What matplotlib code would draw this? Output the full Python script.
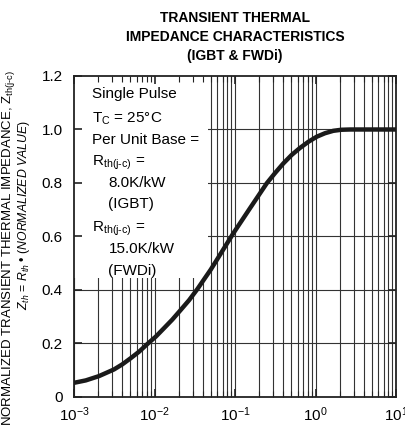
import numpy as np
import matplotlib.pyplot as plt
from matplotlib.patches import Rectangle

plt.rcParams['font.family'] = ['Liberation Sans', 'DejaVu Sans']
plt.rcParams['mathtext.fontset'] = 'custom'
plt.rcParams['mathtext.rm'] = 'Liberation Sans'
plt.rcParams['mathtext.it'] = 'Liberation Sans:italic'

# normalized transient thermal impedance curve (single pulse)
t_sec = [1.0e-3, 1.40e-3, 2.04e-3, 3.14e-3, 3.98e-3, 5.06e-3, 6.41e-3,
         8.15e-3, 1.04e-2, 1.31e-2, 1.66e-2, 2.11e-2, 2.69e-2, 3.40e-2,
         4.99e-2, 5.93e-2, 9.53e-2, 0.153, 0.248, 0.314, 0.398, 0.506,
         0.641, 0.815, 1.035, 1.31, 1.66, 2.09, 2.69, 10.0]
z_norm = [0.053, 0.062, 0.078, 0.103, 0.122, 0.145, 0.169,
          0.198, 0.226, 0.257, 0.289, 0.325, 0.362, 0.403,
          0.476, 0.512, 0.612, 0.705, 0.799, 0.837, 0.873, 0.905,
          0.931, 0.954, 0.973, 0.986, 0.995, 0.999, 1.000, 1.000]

y_ticks = [0, 0.2, 0.4, 0.6, 0.8, 1.0, 1.2]
y_labels = ['0', '0.2', '0.4', '0.6', '0.8', '1.0', '1.2']
x_ticks = [1e-3, 1e-2, 1e-1, 1e0, 1e1]
x_labels = ['10$^{-3}$', '10$^{-2}$', '10$^{-1}$', '10$^{0}$', '10$^{1}$']

fig = plt.figure(figsize=(4.06, 4.46), dpi=100)
ax = fig.add_axes([0.1823, 0.1099, 0.7931, 0.7197])
ax.set_xscale('log')
ax.set_xlim(1e-3, 1e1)
ax.set_ylim(0, 1.2)

# grid drawn by hand so the note box can sit over it
for d in range(-3, 1):
    for m in range(1, 10):
        ax.axvline(m * 10.0 ** d, color='#333333', lw=0.8, zorder=0.5)
for yv in y_ticks[1:-1]:
    ax.axhline(yv, color='#333333', lw=0.8, zorder=0.5)

ax.add_patch(Rectangle((0, 0.371), 0.416, 0.629, transform=ax.transAxes,
                       facecolor='white', edgecolor='none', zorder=1))

ax.plot(t_sec, z_norm, color='#1a1a1a', lw=3.2, solid_joinstyle='round',
        solid_capstyle='butt', zorder=3)

ax.set_yticks(y_ticks)
ax.set_yticklabels(y_labels, fontsize=11)
ax.set_xticks(x_ticks)
ax.set_xticklabels(x_labels, fontsize=11)
ax.tick_params(axis='both', which='major', direction='in', length=6,
               width=1.2, top=True, right=True, color='#222222')
ax.tick_params(axis='y', which='major', pad=8)
ax.tick_params(axis='x', which='major', pad=6)
ax.tick_params(axis='x', which='minor', direction='in', length=4,
               width=0.8, top=True, bottom=True, color='#222222')
ax.tick_params(axis='x', which='minor', labelbottom=False)
for s in ax.spines.values():
    s.set_linewidth(1.3)
    s.set_color('#222222')

# note text
notes = [
    (0.055, 0.945, 'Single Pulse'),
    (0.055, 0.868, 'T$_\\mathregular{C}$ = 25°C'),
    (0.055, 0.800, 'Per Unit Base ='),
    (0.055, 0.728, 'R$_\\mathregular{th(j\\text{-}c)}$ ='),
    (0.107, 0.666, '8.0K/kW'),
    (0.107, 0.600, '(IGBT)'),
    (0.055, 0.523, 'R$_\\mathregular{th(j\\text{-}c)}$ ='),
    (0.107, 0.461, '15.0K/kW'),
    (0.107, 0.393, '(FWDi)'),
]
for x, y, s in notes:
    ax.text(x, y, s, transform=ax.transAxes, fontsize=11, va='center',
            ha='left', zorder=4)

fig.text(0.579, 0.960, 'TRANSIENT THERMAL', ha='center', va='center',
         fontsize=10, fontweight='bold')
fig.text(0.579, 0.917, 'IMPEDANCE CHARACTERISTICS', ha='center', va='center',
         fontsize=10, fontweight='bold')
fig.text(0.579, 0.875, '(IGBT & FWDi)', ha='center', va='center',
         fontsize=10, fontweight='bold')

fig.text(0.020, 0.444,
         'NORMALIZED TRANSIENT THERMAL IMPEDANCE, Z$_\\mathregular{th(j\\text{-}c)}$',
         rotation=90, ha='center', va='center', fontsize=9.5)
fig.text(0.058, 0.518,
         '$Z_{th}$ = $R_{th}$ • $\\it{(NORMALIZED\\ VALUE)}$',
         rotation=90, ha='center', va='center', fontsize=8.8)

fig.savefig('out.png', dpi=100)
